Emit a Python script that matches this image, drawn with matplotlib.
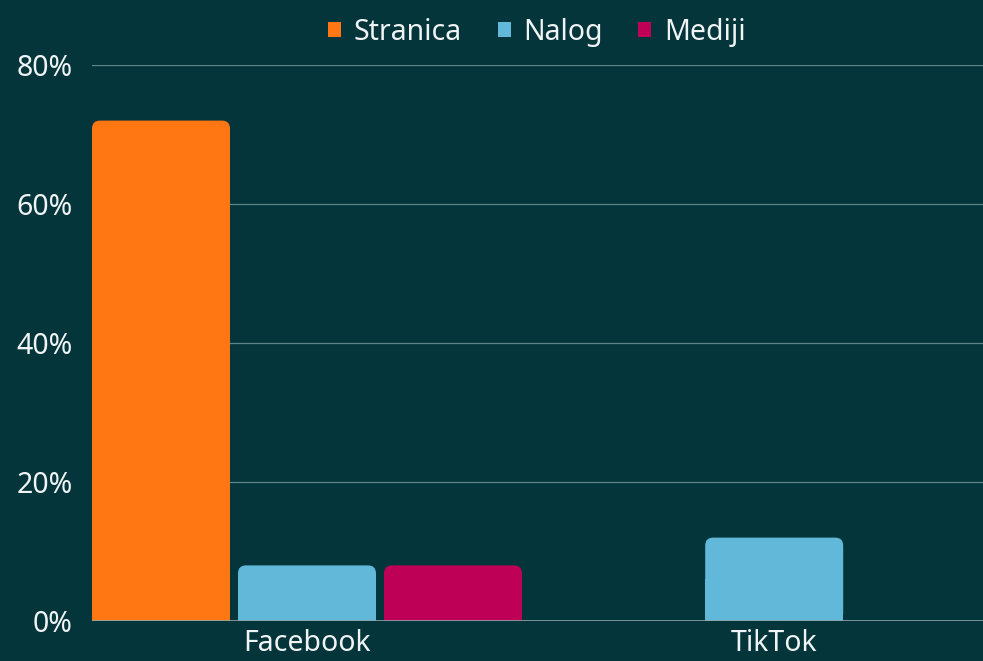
import matplotlib
matplotlib.use("Agg")
import matplotlib.pyplot as plt
from matplotlib.patches import FancyBboxPatch, Rectangle

# data
platforms = ["Facebook", "TikTok"]
series_names = ["Stranica", "Nalog", "Mediji"]
stranica = [72, 0]
nalog = [8, 12]
mediji = [8, 0]
colors = ["#FF7713", "#62B8D9", "#BE0057"]
y_ticks = [0, 20, 40, 60, 80]
y_tick_labels = ["0%", "20%", "40%", "60%", "80%"]

bg = "#04353A"
txt = "#F0F4F5"

plt.rcParams['font.family'] = ['Noto Sans', 'DejaVu Sans']
plt.rcParams['font.weight'] = 'light'

fig = plt.figure(figsize=(9.83, 6.61), dpi=100, facecolor=bg)
ax = fig.add_axes([92/983, 40/661, 891/983, 556/661])
ax.set_facecolor(bg)

group_gap = 3.2
bar_w = 138/146
ax.set_xlim(-1 - bar_w/2, (983-307)/146)
ax.set_ylim(0, 80)

# aspect so the rounded corners come out circular
x_per_px = 1/146
y_per_px = 80/556
r = 8 * x_per_px

all_series = [stranica, nalog, mediji]
for i, vals in enumerate(all_series):
    for g, v in enumerate(vals):
        if v <= 0:
            continue
        x0 = g*group_gap + (i-1) - bar_w/2
        p = FancyBboxPatch((x0, 0), bar_w, v,
                           boxstyle=f"round,pad=0,rounding_size={r}",
                           mutation_aspect=y_per_px/x_per_px,
                           fc=colors[i], ec="none", zorder=3)
        ax.add_patch(p)
        ax.add_patch(Rectangle((x0, 0), bar_w, v/2, fc=colors[i], ec="none", zorder=3))

# grid
for t in y_ticks[1:]:
    ax.axhline(t, color="#5E8589", lw=0.9, zorder=1)
ax.axhline(0, color="#8FA5A8", lw=1.2, zorder=4)

for s in ax.spines.values():
    s.set_visible(False)

ax.set_yticks(y_ticks)
ax.set_yticklabels(y_tick_labels)
ax.set_xticks([g*group_gap for g in range(len(platforms))])
ax.set_xticklabels(platforms)
ax.tick_params(axis="both", length=0, colors=txt, labelsize=20.5)
ax.tick_params(axis="y", pad=14)
ax.tick_params(axis="x", pad=6)

# legend
handles = [Rectangle((0, 0), 1, 1, fc=c, ec="none") for c in colors]
fig.legend(handles, series_names, loc="upper center", bbox_to_anchor=(537/983, 1.012),
           ncol=3, frameon=False, fontsize=20.5, labelcolor=txt,
           handlelength=0.45, handleheight=0.45, handletextpad=0.45, columnspacing=1.25)

fig.savefig("out.png", dpi=100, facecolor=bg)
